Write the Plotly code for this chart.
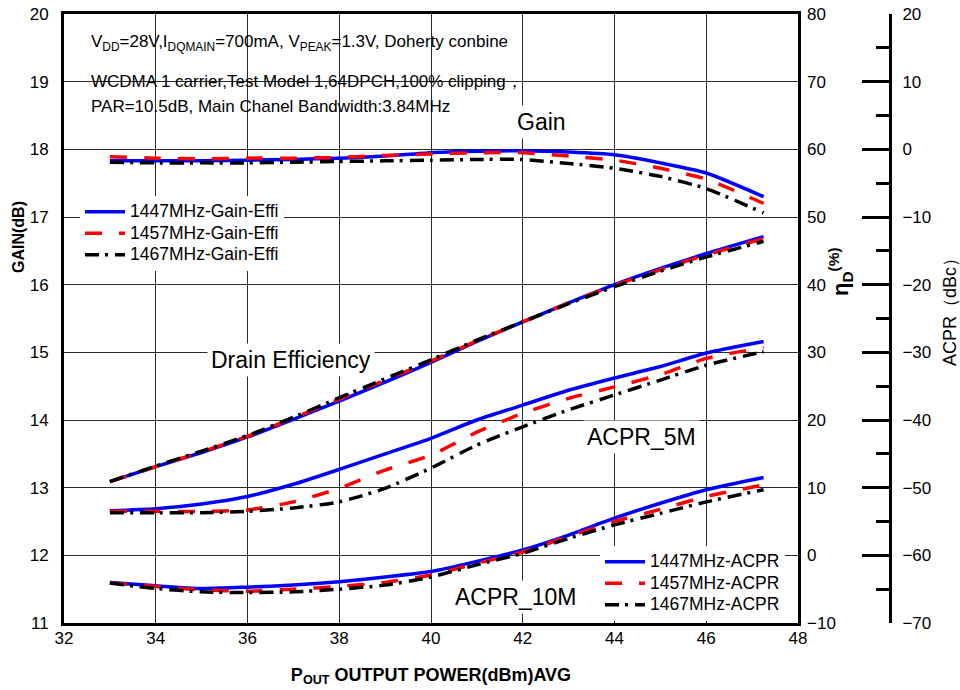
import plotly.graph_objects as go

# ---------------- data ----------------
POUT = [33, 34, 35, 36, 37, 38, 39, 40, 41, 42, 43, 44, 45, 46, 47.25]
X_TICKS = [32, 34, 36, 38, 40, 42, 44, 46, 48]

GAIN_1447 = [17.83, 17.83, 17.83, 17.84, 17.85, 17.87, 17.90, 17.95, 17.97, 17.98, 17.96, 17.92, 17.80, 17.65, 17.30]
GAIN_1457 = [17.89, 17.87, 17.86, 17.87, 17.87, 17.88, 17.91, 17.93, 17.95, 17.95, 17.90, 17.84, 17.72, 17.56, 17.20]
GAIN_1467 = [17.81, 17.80, 17.80, 17.80, 17.81, 17.82, 17.83, 17.84, 17.85, 17.85, 17.79, 17.72, 17.60, 17.42, 17.06]

EFF_1447 = [10.9, 13.1, 15.2, 17.5, 20.1, 22.8, 25.6, 28.5, 31.6, 34.5, 37.3, 40.0, 42.4, 44.6, 47.1]
EFF_1457 = [10.9, 13.1, 15.3, 17.6, 20.3, 23.1, 25.9, 28.7, 31.7, 34.5, 37.3, 39.9, 42.2, 44.4, 46.8]
EFF_1467 = [10.9, 13.2, 15.4, 17.7, 20.4, 23.3, 26.1, 28.9, 31.8, 34.5, 37.2, 39.7, 42.0, 44.1, 46.4]

ACPR5_1447 = [-53.4, -53.1, -52.4, -51.3, -49.5, -47.3, -45.0, -42.7, -40.0, -37.8, -35.6, -33.8, -32.1, -30.1, -28.4]
ACPR5_1457 = [-53.5, -53.5, -53.5, -53.3, -52.1, -50.1, -47.4, -45.2, -41.8, -39.0, -36.8, -35.1, -33.3, -30.9, -29.3]
ACPR5_1467 = [-53.7, -53.7, -53.7, -53.5, -53.0, -52.1, -50.1, -47.1, -43.7, -41.0, -38.5, -36.3, -34.1, -31.9, -29.9]

ACPR10_1447 = [-64.0, -64.5, -64.9, -64.7, -64.4, -63.9, -63.2, -62.4, -60.9, -59.2, -57.0, -54.5, -52.3, -50.3, -48.5]
ACPR10_1457 = [-64.1, -64.6, -65.1, -65.3, -65.0, -64.6, -64.0, -62.9, -61.2, -59.5, -57.2, -55.0, -53.2, -51.3, -49.6]
ACPR10_1467 = [-64.1, -64.9, -65.4, -65.5, -65.4, -65.0, -64.4, -63.2, -61.4, -59.7, -57.5, -55.5, -53.8, -52.1, -50.3]

FREQS = ["1447MHz", "1457MHz", "1467MHz"]
GAIN = [GAIN_1447, GAIN_1457, GAIN_1467]
EFF = [EFF_1447, EFF_1457, EFF_1467]
ACPR5 = [ACPR5_1447, ACPR5_1457, ACPR5_1467]
ACPR10 = [ACPR10_1447, ACPR10_1457, ACPR10_1467]

# ---------------- styles ----------------
FONT = "Arial, 'Liberation Sans', sans-serif"
COLORS = ["#0000FF", "#FF0000", "#000000"]
DASHES = ["solid", "17px,17px", "14px,6px,3px,7px"]
LW = 3.5
GRID = "#2a2a2a"

W, H = 960, 690
ML, MT = 64, 14
AX3 = 890          # far-right ACPR axis position
PB = 623
MR, MB = W - AX3, H - PB
PW = W - ML - MR
PH = H - MT - MB
X_END = 798


def xp(px):
    """window pixel -> paper x"""
    return (px - ML) / PW


def yp(py):
    """window pixel -> paper y"""
    return (PB - py) / PH


def leg(name):
    return "<span style='font-size:17.5px'>" + name + "</span>"


fig = go.Figure()


def style(i):
    return dict(color=COLORS[i], width=LW, dash=DASHES[i], shape="spline", smoothing=0.6)


for i, f in enumerate(FREQS):
    fig.add_trace(go.Scatter(x=POUT, y=GAIN[i], mode="lines", line=style(i),
                             name=leg(f + "-Gain-Effi"), legend="legend",
                             showlegend=True, yaxis="y"))
for i, f in enumerate(FREQS):
    fig.add_trace(go.Scatter(x=POUT, y=EFF[i], mode="lines", line=style(i),
                             name=f + "-Gain-Effi", showlegend=False, yaxis="y2"))
for i, f in enumerate(FREQS):
    fig.add_trace(go.Scatter(x=POUT, y=ACPR5[i], mode="lines", line=style(i),
                             name=leg(f + "-ACPR"), legend="legend2",
                             showlegend=True, yaxis="y3"))
for i, f in enumerate(FREQS):
    fig.add_trace(go.Scatter(x=POUT, y=ACPR10[i], mode="lines", line=style(i),
                             name=f + "-ACPR", showlegend=False, yaxis="y3"))

tickfont = dict(family=FONT, size=17, color="black")
legfont = dict(family=FONT, size=14.2, color="black")

fig.update_layout(
    width=W, height=H,
    margin=dict(l=ML, r=MR, t=MT, b=MB, pad=0),
    paper_bgcolor="white", plot_bgcolor="white",
    font=dict(family=FONT, color="black"),
    xaxis=dict(domain=[0, xp(X_END)], range=[32, 48], tickvals=X_TICKS,
               showgrid=True, gridcolor=GRID, gridwidth=1, zeroline=False,
               showline=True, linecolor="black", linewidth=3, mirror=True,
               ticks="", tickfont=tickfont, automargin=False, ticklabelstandoff=-2,
               title=dict(text="P<sub>OUT</sub> OUTPUT POWER(dBm)AVG",
                          font=dict(family=FONT, size=18, color="black", weight="bold"),
                          standoff=21)),
    yaxis=dict(range=[11, 20], dtick=1, showgrid=True, gridcolor=GRID, gridwidth=1,
               zeroline=False, showline=True, linecolor="black", linewidth=3,
               mirror=True, ticks="", tickfont=tickfont, automargin=False,
               ticklabelstandoff=9),
    yaxis2=dict(range=[-10, 80], dtick=10, overlaying="y", side="right", anchor="x",
                showgrid=False, zeroline=False, showline=False, ticks="",
                tickfont=tickfont, automargin=False, ticklabelstandoff=8),
    yaxis3=dict(range=[-70, 20], dtick=10, overlaying="y", side="right",
                anchor="free", position=1.0, showgrid=False, zeroline=False,
                showline=True, linecolor="black", linewidth=3,
                ticks="inside", ticklen=27, tickwidth=3, tickcolor="black",
                minor=dict(dtick=5, ticks="inside", ticklen=13, tickwidth=3, tickcolor="black"),
                tickfont=tickfont, automargin=False, ticklabelstandoff=7),
    legend=dict(x=xp(80), y=yp(196), xanchor="left", yanchor="top",
                bgcolor="white", borderwidth=0, itemwidth=40,
                font=legfont, tracegroupgap=0),
    legend2=dict(x=xp(600), y=yp(546), xanchor="left", yanchor="top",
                 bgcolor="white", borderwidth=0, itemwidth=40,
                 font=legfont, tracegroupgap=0),
)

# white areas behind text blocks (between grid and traces)
fig.add_shape(type="rect", xref="paper", yref="paper",
              x0=xp(72), x1=xp(527), y0=yp(116), y1=yp(23),
              fillcolor="white", line=dict(width=0), layer="between")
fig.add_shape(type="rect", xref="paper", yref="paper",
              x0=xp(447), x1=xp(586), y0=yp(616), y1=yp(558),
              fillcolor="white", line=dict(width=0), layer="between")

top_lines = [
    ("V<sub>DD</sub>=28V,I<sub>DQMAIN</sub>=700mA, V<sub>PEAK</sub>=1.3V, Doherty conbine", 43),
    ("WCDMA 1 carrier,Test Model 1,64DPCH,100% clipping，", 81.5),
    ("PAR=10.5dB, Main Chanel Bandwidth:3.84MHz", 106),
]
for txt, py in top_lines:
    fig.add_annotation(text=txt, xref="paper", yref="paper", x=xp(89), y=yp(py),
                       xanchor="left", yanchor="middle", showarrow=False,
                       font=dict(family=FONT, size=17, color="black"))

labels = [
    ("Gain", 541, 122),
    ("Drain Efficiency", 291, 360),
    ("ACPR_5M", 641, 437),
    ("ACPR_10M", 515, 597),
]
for txt, px, py in labels:
    fig.add_annotation(text=txt, xref="paper", yref="paper", x=xp(px), y=yp(py),
                       xanchor="center", yanchor="middle", showarrow=False,
                       bgcolor="white", borderpad=3,
                       font=dict(family=FONT, size=23, color="black"))

fig.add_annotation(text="<b>GAIN(dB)</b>", xref="paper", yref="paper",
                   x=xp(18), y=yp(237), textangle=-90, showarrow=False,
                   xanchor="center", yanchor="middle",
                   font=dict(family=FONT, size=16, color="black"))
fig.add_annotation(text="<b>η<sub>D</sub><sup>(%)</sup></b>", xref="paper", yref="paper",
                   x=xp(840), y=yp(272), textangle=-90, showarrow=False,
                   xanchor="center", yanchor="middle",
                   font=dict(family=FONT, size=22, color="black"))
fig.add_annotation(text="ACPR（dBc）", xref="paper", yref="paper",
                   x=xp(950), y=yp(308), textangle=-90, showarrow=False,
                   xanchor="center", yanchor="middle",
                   font=dict(family=FONT, size=18, color="black"))

# remove the default 8px page margin so the figure sits at the window origin
fig.write_html("out.html", config={"displayModeBar": False},
               post_script="document.body.style.margin='0px';")
